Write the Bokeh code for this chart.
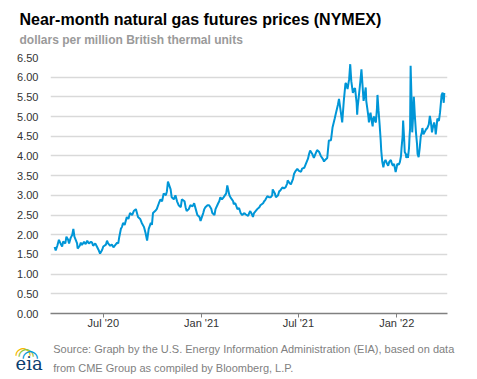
import pandas as pd
from bokeh.plotting import figure
from bokeh.models import (Range1d, MonthsTicker, DatetimeTickFormatter, SingleIntervalTicker,
                          NumeralTickFormatter, Title)
from bokeh.embed import file_html
from bokeh.resources import INLINE

TITLE = "Near-month natural gas futures prices (NYMEX)"
SUBTITLE = "dollars per million British thermal units"
SOURCE_1 = "Source: Graph by the U.S. Energy Information Administration (EIA), based on data"
SOURCE_2 = "from CME Group as compiled by Bloomberg, L.P."

dates_2020 = [
    "2020-04-01", "2020-04-03", "2020-04-06", "2020-04-09", "2020-04-13", "2020-04-15", "2020-04-17", "2020-04-21", "2020-04-23", "2020-04-26", "2020-04-28",
    "2020-05-01", "2020-05-04", "2020-05-06", "2020-05-08", "2020-05-11", "2020-05-13", "2020-05-14", "2020-05-18", "2020-05-20", "2020-05-22", "2020-05-26", "2020-05-29",
    "2020-06-01", "2020-06-04", "2020-06-08", "2020-06-10", "2020-06-12", "2020-06-16", "2020-06-19", "2020-06-22", "2020-06-25", "2020-06-29",
    "2020-07-01", "2020-07-06", "2020-07-08", "2020-07-10", "2020-07-14", "2020-07-17", "2020-07-20", "2020-07-24", "2020-07-27", "2020-07-29", "2020-07-31",
    "2020-08-03", "2020-08-05", "2020-08-07", "2020-08-10", "2020-08-14", "2020-08-17", "2020-08-20", "2020-08-24", "2020-08-27", "2020-08-31",
    "2020-09-02", "2020-09-04", "2020-09-08", "2020-09-11", "2020-09-15", "2020-09-18", "2020-09-21", "2020-09-24", "2020-09-28", "2020-09-30",
    "2020-10-02", "2020-10-06", "2020-10-09", "2020-10-13", "2020-10-16", "2020-10-19", "2020-10-22", "2020-10-26", "2020-10-28", "2020-10-30",
    "2020-11-04", "2020-11-06", "2020-11-10", "2020-11-13", "2020-11-16", "2020-11-19", "2020-11-23", "2020-11-25", "2020-11-30",
    "2020-12-02", "2020-12-04", "2020-12-08", "2020-12-11", "2020-12-15", "2020-12-18", "2020-12-21", "2020-12-24", "2020-12-28", "2020-12-30",
]
prices_2020 = [
    1.69, 1.60, 1.72, 1.87, 1.75, 1.70, 1.83, 1.78, 1.95, 1.88, 1.78,
    1.92, 2.00, 2.15, 1.95, 1.85, 1.78, 1.65, 1.72, 1.80, 1.74, 1.82, 1.76,
    1.85, 1.78, 1.82, 1.80, 1.72, 1.78, 1.70, 1.62, 1.52, 1.62,
    1.70, 1.75, 1.85, 1.78, 1.72, 1.75, 1.68, 1.75, 1.80, 1.78, 1.95,
    2.15, 2.20, 2.30, 2.25, 2.45, 2.40, 2.55, 2.50, 2.60, 2.65,
    2.55, 2.45, 2.40, 2.30, 2.20, 2.05, 1.85, 2.15, 2.30, 2.25,
    2.55, 2.60, 2.65, 2.80, 2.90, 2.85, 3.05, 3.00, 3.10, 3.35,
    3.15, 2.95, 2.90, 3.00, 2.85, 2.75, 2.70, 2.90, 2.85,
    2.70, 2.60, 2.65, 2.75, 2.72, 2.80, 2.65, 2.50, 2.45, 2.35,
]

dates_2021 = [
    "2021-01-04", "2021-01-06", "2021-01-08", "2021-01-12", "2021-01-15", "2021-01-19", "2021-01-21", "2021-01-25", "2021-01-27",
    "2021-02-01", "2021-02-03", "2021-02-05", "2021-02-08", "2021-02-11", "2021-02-16", "2021-02-18", "2021-02-22", "2021-02-24",
    "2021-03-01", "2021-03-02", "2021-03-05", "2021-03-09", "2021-03-12", "2021-03-15", "2021-03-18", "2021-03-22", "2021-03-24", "2021-03-29", "2021-03-31",
    "2021-04-02", "2021-04-05", "2021-04-07", "2021-04-09", "2021-04-12", "2021-04-15", "2021-04-19", "2021-04-21", "2021-04-26", "2021-04-28", "2021-04-30",
    "2021-05-04", "2021-05-07", "2021-05-10", "2021-05-13", "2021-05-14", "2021-05-18", "2021-05-20", "2021-05-24", "2021-05-26", "2021-05-28",
    "2021-06-01", "2021-06-04", "2021-06-07", "2021-06-10", "2021-06-11", "2021-06-15", "2021-06-17", "2021-06-21", "2021-06-23", "2021-06-25", "2021-06-29",
    "2021-07-02", "2021-07-06", "2021-07-08", "2021-07-12", "2021-07-15", "2021-07-19", "2021-07-21", "2021-07-23", "2021-07-27", "2021-07-30",
    "2021-08-02", "2021-08-05", "2021-08-09", "2021-08-12", "2021-08-16", "2021-08-18", "2021-08-20", "2021-08-24", "2021-08-27", "2021-08-31",
    "2021-09-03", "2021-09-07", "2021-09-09", "2021-09-13", "2021-09-15", "2021-09-17", "2021-09-21", "2021-09-24", "2021-09-27", "2021-09-28",
    "2021-10-01", "2021-10-04", "2021-10-06", "2021-10-08", "2021-10-11", "2021-10-13", "2021-10-15", "2021-10-18", "2021-10-19", "2021-10-20", "2021-10-22", "2021-10-25", "2021-10-27", "2021-10-29", "2021-10-31",
    "2021-11-02", "2021-11-04", "2021-11-05", "2021-11-07", "2021-11-09", "2021-11-10", "2021-11-12", "2021-11-13", "2021-11-15", "2021-11-17", "2021-11-18", "2021-11-20", "2021-11-21", "2021-11-23", "2021-11-25", "2021-11-26", "2021-11-28", "2021-11-30",
    "2021-12-02", "2021-12-03", "2021-12-05", "2021-12-07", "2021-12-09", "2021-12-11", "2021-12-14", "2021-12-16", "2021-12-18", "2021-12-21", "2021-12-23", "2021-12-25", "2021-12-27", "2021-12-30",
]
prices_2021 = [
    2.55, 2.65, 2.70, 2.75, 2.75, 2.66, 2.55, 2.50, 2.65,
    2.80, 2.85, 2.95, 2.90, 2.95, 3.05, 3.25, 3.00, 2.95,
    2.85, 2.78, 2.80, 2.65, 2.68, 2.55, 2.50, 2.55, 2.52, 2.48, 2.55,
    2.60, 2.52, 2.45, 2.55, 2.60, 2.65, 2.70, 2.75, 2.80, 2.85, 2.88,
    2.98, 2.95, 2.95, 3.00, 3.15, 3.05, 2.95, 3.00, 3.10, 3.12,
    3.20, 3.18, 3.20, 3.30, 3.38, 3.30, 3.28, 3.42, 3.55, 3.60, 3.67,
    3.62, 3.60, 3.68, 3.70, 3.80, 3.93, 4.05, 4.14, 4.05, 3.95,
    4.05, 4.15, 4.10, 4.00, 3.92, 3.86, 3.90, 3.95, 4.39, 4.40,
    4.73, 4.95, 5.07, 5.30, 5.45, 5.25, 4.85, 5.40, 5.83, 5.85,
    5.70, 5.95, 6.33, 5.90, 5.60, 5.70, 5.72, 5.35, 5.05, 5.25, 5.50, 5.90, 6.20, 5.80, 5.40,
    5.55, 5.74, 5.40, 5.20, 5.00, 4.85, 5.05, 5.10, 4.90, 4.75, 4.95, 5.00, 4.90, 4.85, 5.20, 5.55, 5.15, 4.80,
    4.40, 4.14, 3.85, 3.71, 3.85, 3.90, 3.80, 3.75, 3.85, 3.90, 3.80, 3.75, 3.80, 3.59,
]

dates_2022 = [
    "2022-01-01", "2022-01-02", "2022-01-05", "2022-01-07", "2022-01-09", "2022-01-10", "2022-01-12", "2022-01-13", "2022-01-15", "2022-01-16",
    "2022-01-18", "2022-01-19", "2022-01-21", "2022-01-22", "2022-01-24", "2022-01-25", "2022-01-26", "2022-01-27", "2022-01-29", "2022-01-30",
    "2022-02-01", "2022-02-02", "2022-02-04", "2022-02-06", "2022-02-08", "2022-02-09", "2022-02-11", "2022-02-13", "2022-02-15", "2022-02-17",
    "2022-02-18", "2022-02-20", "2022-02-22", "2022-02-25", "2022-02-27",
    "2022-03-02", "2022-03-04", "2022-03-06", "2022-03-08", "2022-03-10", "2022-03-12", "2022-03-14", "2022-03-15", "2022-03-17",
    "2022-03-18", "2022-03-20", "2022-03-21", "2022-03-23", "2022-03-25", "2022-03-26", "2022-03-28", "2022-03-30", "2022-03-31",
]
prices_2022 = [
    3.72, 3.80, 3.78, 3.85, 4.00, 4.20, 4.50, 4.90, 4.40, 4.10,
    4.05, 3.95, 4.05, 3.95, 4.20, 4.50, 4.70, 6.29, 5.30, 4.60,
    5.10, 5.50, 5.00, 4.60, 4.30, 4.05, 3.97, 4.20, 4.50, 4.60,
    4.71, 4.55, 4.60, 4.68, 4.70,
    4.80, 5.02, 4.85, 4.60, 4.75, 4.85, 4.70, 4.55, 4.80,
    4.95, 4.90, 4.90, 5.10, 5.40, 5.55, 5.61, 5.35, 5.60,
]

x_start, x_end = "2020-03-24 06:00", "2022-04-06"
y_min, y_max, y_step = 0.0, 6.5, 0.5

dates = pd.to_datetime(dates_2020 + dates_2021 + dates_2022)
prices = prices_2020 + prices_2021 + prices_2022
assert len(dates) == len(prices)

FONT = "Liberation Sans"

p = figure(width=476, height=378, x_axis_type="datetime", output_backend="svg",
           toolbar_location=None,
           x_range=Range1d(pd.Timestamp(x_start), pd.Timestamp(x_end)),
           y_range=Range1d(y_min, y_max),
           min_border_left=50, min_border_right=29, min_border_top=57, min_border_bottom=65,
           outline_line_color=None)
p.line(dates, prices, line_color="#0096d7", line_width=2)

p.xgrid.visible = False
p.ygrid.grid_line_color = "#d9d9d9"
p.ygrid.grid_line_width = 1.5

p.yaxis.ticker = SingleIntervalTicker(interval=y_step)
p.yaxis.formatter = NumeralTickFormatter(format="0.00")
p.yaxis.axis_line_color = None
p.yaxis.major_tick_line_color = None
p.yaxis.minor_tick_line_color = None
p.yaxis.major_tick_out = 0
p.yaxis.major_tick_in = 0
p.yaxis.major_label_standoff = 8

p.xaxis.ticker = MonthsTicker(months=[0, 6])
p.xaxis.formatter = DatetimeTickFormatter(months="%b '%y", days="%b '%y", years="%b '%y")
p.xaxis.axis_line_color = "#808080"
p.xaxis.axis_line_width = 1.5
p.xaxis.major_tick_line_color = "#808080"
p.xaxis.major_tick_in = 0
p.xaxis.major_tick_out = 4
p.xaxis.minor_tick_line_color = None
p.xaxis.major_label_standoff = -1

for ax in (p.xaxis, p.yaxis):
    ax.major_label_text_font = FONT
    ax.major_label_text_font_size = "11px"
    ax.major_label_text_color = "#333333"


def spacer(standoff):
    return Title(text=" ", text_font_size="1px", standoff=standoff)


def line_title(text, offset, size, color, style="normal", font=FONT, standoff=0, valign="bottom"):
    return Title(text=text, align="left", offset=offset, standoff=standoff,
                 vertical_align=valign, text_font=font, text_font_size=size,
                 text_font_style=style, text_color=color)


# above: stacked outward from the plot frame
p.add_layout(spacer(7.8), "above")
p.add_layout(line_title(SUBTITLE, -31, "12px", "#9a9a9a", "bold"), "above")
p.add_layout(spacer(0), "above")
p.add_layout(line_title(TITLE, -31, "16px", "#000000", "bold"), "above")
p.add_layout(spacer(4.4), "above")

# below: after the x axis; the logo rows take (almost) no height of their own
p.add_layout(spacer(5.9), "below")
p.add_layout(line_title(SOURCE_1, 2.7, "11px", "#7f7f7f"), "below")
p.add_layout(line_title("\u25e0", -35, "20px", "#f5b800", "bold", "DejaVu Sans", -25.3, "top"), "below")
p.add_layout(line_title("\u25e0", -32, "20px", "#8cc63f", "bold", "DejaVu Sans", -24.3, "top"), "below")
p.add_layout(line_title("\u25e0", -28, "20px", "#0096d7", "bold", "DejaVu Sans", -24.3, "top"), "below")
p.add_layout(line_title("eia", -35, "18px", "#0b3d6e", font="DejaVu Serif", standoff=-15.6), "below")
p.add_layout(line_title(SOURCE_2, 2.7, "11px", "#7f7f7f", standoff=-14.3), "below")

open("out.html", "w").write(file_html(p, INLINE))
